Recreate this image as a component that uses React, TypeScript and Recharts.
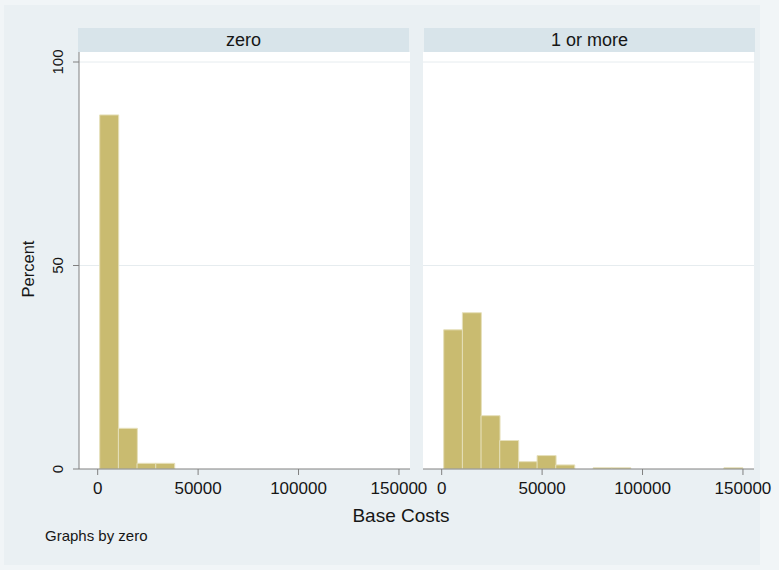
import { Bar, BarChart, CartesianGrid, XAxis, YAxis } from "recharts"

// histogram bins (midpoints of 9300-wide bins starting at 1000)
const BIN_MIDS = [
  5650, 14950, 24250, 33550, 42850, 52150, 61450, 70750,
  80050, 89350, 98650, 107950, 117250, 126550, 135850, 145150,
]
const PCT_ZERO = [87.0, 10.0, 1.4, 1.4, 0, 0, 0, 0, 0, 0, 0, 0, 0, 0, 0, 0]
const PCT_ONE_OR_MORE = [34.2, 38.4, 13.1, 7.0, 1.8, 3.3, 1.0, 0, 0.3, 0.3, 0, 0, 0, 0, 0, 0.3]

const PANEL_LABELS = ["zero", "1 or more"]
const X_TICKS = [0, 50000, 100000, 150000]
const Y_TICKS = [0, 50, 100]
const X_DOMAIN: [number, number] = [-9300, 155500]
const Y_DOMAIN: [number, number] = [0, 102.46]

const FONT = '"Liberation Sans", Arial, Helvetica, sans-serif'
const BG = "#eaf0f3"
const STRIP = "#d8e4ea"
const AXIS = "#808080"
const TEXT = "#161616"
const BAR_FILL = "#c9bb70"
const BAR_EDGE = "#e6e0bb"

function XTick({ x, y, payload }: any) {
  return (
    <text x={x} y={y + 17} textAnchor="middle" fontSize={17} fontFamily={FONT} fill={TEXT}>
      {payload.value}
    </text>
  )
}

function YTick({ x, y, payload }: any) {
  const bx = x - 8
  return (
    <text
      x={bx}
      y={y}
      transform={`rotate(-90, ${bx}, ${y})`}
      textAnchor="middle"
      fontSize={15}
      fontFamily={FONT}
      fill={TEXT}
    >
      {payload.value}
    </text>
  )
}

function Panel({ values, showYAxis }: { values: number[]; showYAxis: boolean }) {
  const data = BIN_MIDS.map((mid, i) => ({ mid, pct: values[i] }))
  // left panel gets extra room on the right so its last tick label isn't clipped
  const width = showYAxis ? 450 : 359
  const margin = showYAxis
    ? { top: 52, right: 40, bottom: 31, left: 39 }
    : { top: 52, right: 25, bottom: 31, left: 3 }

  return (
    <BarChart width={width} height={530} data={data} margin={margin} barCategoryGap={0} barGap={0}>
      <CartesianGrid vertical={false} fill="#ffffff" stroke="#e6ecef" horizontalValues={[50, 100]} />
      <XAxis
        dataKey="mid"
        type="number"
        domain={X_DOMAIN}
        allowDataOverflow
        ticks={X_TICKS}
        interval={0}
        height={30}
        tickSize={6}
        stroke={AXIS}
        tick={<XTick />}
      />
      <YAxis
        type="number"
        domain={Y_DOMAIN}
        allowDataOverflow
        ticks={Y_TICKS}
        interval={0}
        width={40}
        tickSize={6}
        stroke={AXIS}
        hide={!showYAxis}
        tick={<YTick />}
      />
      <Bar dataKey="pct" fill={BAR_FILL} stroke={BAR_EDGE} strokeWidth={1} isAnimationActive={false} />
    </BarChart>
  )
}

export default function App() {
  const strips = [
    { left: 78, label: PANEL_LABELS[0] },
    { left: 424, label: PANEL_LABELS[1] },
  ]

  return (
    <div style={{ position: "absolute", left: 0, top: 0, width: 779, height: 570, background: "#f1f5f7", fontFamily: FONT }}>
      <div style={{ position: "absolute", left: 4, top: 5, width: 756, height: 560, background: BG }} />

      {strips.map((s) => (
        <div
          key={s.label}
          style={{
            position: "absolute",
            left: s.left,
            top: 28,
            width: 331,
            height: 24,
            background: STRIP,
            color: TEXT,
            fontSize: 18,
            lineHeight: "24px",
            textAlign: "center",
          }}
        >
          {s.label}
        </div>
      ))}

      <div style={{ position: "absolute", left: 420, top: 0 }}>
        <Panel values={PCT_ONE_OR_MORE} showYAxis={false} />
      </div>
      <div style={{ position: "absolute", left: 0, top: 0 }}>
        <Panel values={PCT_ZERO} showYAxis />
      </div>

      <div
        style={{
          position: "absolute",
          left: 28 - 40,
          top: 269 - 10,
          width: 80,
          height: 20,
          lineHeight: "20px",
          fontSize: 16.5,
          textAlign: "center",
          color: TEXT,
          transform: "rotate(-90deg)",
        }}
      >
        Percent
      </div>
      <div
        style={{
          position: "absolute",
          left: 301,
          top: 505,
          width: 200,
          lineHeight: "22px",
          fontSize: 19,
          textAlign: "center",
          color: TEXT,
        }}
      >
        Base Costs
      </div>
      <div style={{ position: "absolute", left: 45, top: 527, fontSize: 15, lineHeight: "18px", color: TEXT }}>
        Graphs by zero
      </div>
    </div>
  )
}
